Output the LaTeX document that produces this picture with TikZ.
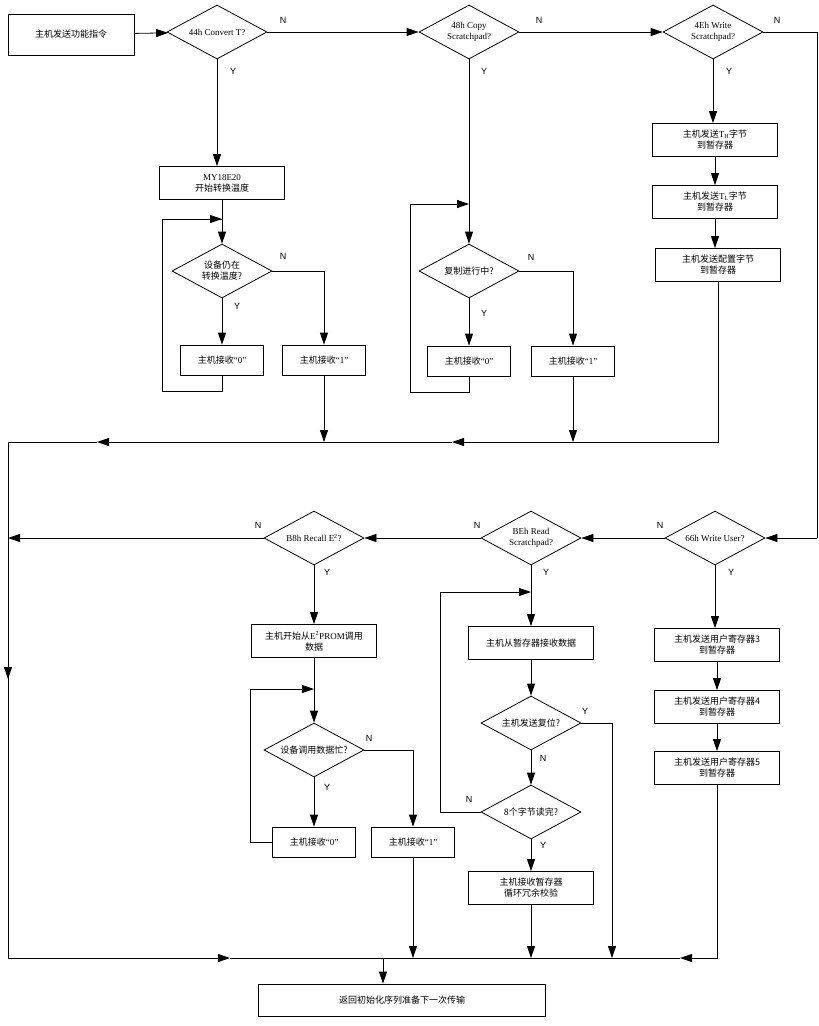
\documentclass[tikz,border=0pt]{standalone}
\usepackage{fontspec}
\setmainfont{Liberation Serif}
\newfontfamily\cjk{Noto Sans CJK SC}
\newfontfamily\lab{Liberation Sans}
\usetikzlibrary{shapes.geometric, arrows.meta, positioning}

\begin{document}
\begin{tikzpicture}[x=1pt, y=-1pt, font=\fontsize{9}{11}\selectfont]
		\tikzstyle{Box} = [rectangle, minimum width=125pt, minimum height=33pt, align=center, draw=black, thick, inner sep=1pt]
		\tikzstyle{Small} = [Box, minimum width=83pt, minimum height=30pt]
		\tikzstyle{Dec} = [diamond, aspect=1.85, minimum width=100pt, minimum height=54pt, inner sep=0pt, align=center, draw=black, thick]
		\tikzstyle{line} = [thick]
		\tikzstyle{arrow} = [thick, -{Triangle[length=12pt, width=8pt]}]
		\tikzstyle{yn} = [font=\lab\fontsize{9}{11}\selectfont]
		
		\useasboundingbox (0,0) rectangle (819,1026);
		
		% top row
		\node (start) [Box, minimum width=126pt, minimum height=41pt] at (71,34.5) {\cjk 主机发送功能指令};
		\node (conv) [Dec] at (217,32) {44h Convert T?};
		\node (copy) [Dec] at (469,32) {48h Copy\\Scratchpad?};
		\node (write) [Dec] at (713,32) {4Eh Write\\Scratchpad?};
		\draw [arrow] (start) -- (conv);
		\draw [arrow] (conv) -- (copy);
		\draw [arrow] (copy) -- (write);
		\node [yn] at (283,20) {N};
		\node [yn] at (539,20) {N};
		\node [yn] at (777,20) {N};
		\node [yn] at (233,71) {Y};
		\node [yn] at (484,71) {Y};
		\node [yn] at (729,71) {Y};
		
		% convert T
		\node (cstart) [Box] at (222,183) {MY18E20\\{\cjk 开始转换温度}};
		\node (cbusy) [Dec] at (222,271) {\cjk 设备仍在\\\cjk 转换温度?};
		\node (c0) [Small] at (222,360) {{\cjk 主机接收}“0”};
		\node (c1) [Small] at (324,360) {{\cjk 主机接收}“1”};
		\draw [arrow] (conv) -- (conv |- cstart.north);
		\draw [arrow] (cstart) -- (cbusy);
		\draw [arrow] (cbusy) -- (c0);
		\draw [arrow] (cbusy.east) -| (c1);
		\draw [line] (c0.south) |- (162,391) |- (222,219);
		\draw [arrow] (162,219) -- (222,219);
		\node [yn] at (283,256) {N};
		\node [yn] at (237,306) {Y};
		
		% copy scratchpad
		\node (pbusy) [Dec] at (469,271) {\cjk 复制进行中?};
		\node (p0) [Small] at (469,361) {{\cjk 主机接收}“0”};
		\node (p1) [Small] at (573,361) {{\cjk 主机接收}“1”};
		\draw [arrow] (copy) -- (pbusy);
		\draw [arrow] (pbusy) -- (p0);
		\draw [arrow] (pbusy.east) -| (p1);
		\draw [line] (p0.south) |- (410,392) -- (410,204);
		\draw [arrow] (410,204) -- (469,204);
		\node [yn] at (531,257) {N};
		\node [yn] at (484,313) {Y};
		
		% write scratchpad
		\node (th) [Box] at (715,140) {{\cjk 主机发送}T\textsubscript{H}{\cjk 字节}\\\cjk 到暂存器};
		\node (tl) [Box] at (715,202) {{\cjk 主机发送}T\textsubscript{L}{\cjk 字节}\\\cjk 到暂存器};
		\node (cfg) [Box] at (718,265) {\cjk 主机发送配置字节\\\cjk 到暂存器};
		\draw [arrow] (write) -- (write |- th.north);
		\draw [arrow] (th) -- (tl);
		\draw [arrow] (tl.south) -- (tl.south |- cfg.north);
		
		% upper collector
		\coordinate (mid1) at (452,442);
		\coordinate (mid2) at (97,442);
		\coordinate (left) at (8,442);
		\draw [arrow] (c1) -- (c1 |- mid1);
		\draw [arrow] (p1) -- (p1 |- mid1);
		\draw [arrow] (cfg.south) |- (mid1);
		\draw [arrow] (mid1) -- (mid2);
		\draw [line] (mid2) -- (left);
		
		% second row
		\node (user) [Dec] at (715,538) {66h Write User?};
		\node (read) [Dec] at (531,538) {BEh Read\\Scratchpad?};
		\node (recall) [Dec] at (314,538) {B8h Recall E\textsuperscript{2}?};
		\draw [line] (write.east) -| (817,538);
		\draw [arrow] (817,538) -- (user.east);
		\draw [arrow] (user) -- (read);
		\draw [arrow] (read) -- (recall);
		\draw [arrow] (recall.west) -- (8,538);
		\node [yn] at (660,525) {N};
		\node [yn] at (477,525) {N};
		\node [yn] at (258,525) {N};
		\node [yn] at (327,572) {Y};
		\node [yn] at (546,572) {Y};
		\node [yn] at (731,572) {Y};
		
		% recall E2
		\node (rstart) [Box] at (314,641) {{\cjk 主机开始从}E\textsuperscript{2}PROM{\cjk 调用}\\\cjk 数据};
		\node (rbusy) [Dec] at (314,750) {\cjk 设备调用数据忙?};
		\node (r0) [Small] at (314,842) {{\cjk 主机接收}“0”};
		\node (r1) [Small] at (413,842) {{\cjk 主机接收}“1”};
		\draw [arrow] (recall) -- (rstart);
		\draw [arrow] (rstart) -- (rbusy);
		\draw [arrow] (rbusy) -- (r0);
		\draw [arrow] (rbusy.east) -| (r1);
		\draw [line] (r0.west) -| (250,689);
		\draw [arrow] (250,689) -- (314,689);
		\node [yn] at (369,738) {N};
		\node [yn] at (327,787) {Y};
		
		% read scratchpad
		\node (rd) [Box] at (531,643) {\cjk 主机从暂存器接收数据};
		\node (reset) [Dec] at (531,723) {\cjk 主机发送复位?};
		\node (eight) [Dec] at (531,812) {\cjk 8个字节读完?};
		\node (crc) [Box] at (531,888) {\cjk 主机接收暂存器\\\cjk 循环冗余校验};
		\draw [arrow] (read) -- (rd);
		\draw [arrow] (rd) -- (reset);
		\draw [arrow] (reset) -- (eight);
		\draw [arrow] (eight) -- (crc);
		\draw [line] (eight.west) -| (440,592);
		\draw [arrow] (440,592) -- (531,592);
		\node [yn] at (585,711) {Y};
		\node [yn] at (543,758) {N};
		\node [yn] at (469,799) {N};
		\node [yn] at (543,845) {Y};
		
		% write user
		\node (u3) [Box] at (717,645) {\cjk 主机发送用户寄存器3\\\cjk 到暂存器};
		\node (u4) [Box] at (717,707) {\cjk 主机发送用户寄存器4\\\cjk 到暂存器};
		\node (u5) [Box] at (717,768) {\cjk 主机发送用户寄存器5\\\cjk 到暂存器};
		\draw [arrow] (user) -- (user |- u3.north);
		\draw [arrow] (u3) -- (u4);
		\draw [arrow] (u4) -- (u5);
		
		% lower collector
		\coordinate (bl) at (8,958);
		\coordinate (ba) at (230,958);
		\coordinate (bb) at (680,958);
		\coordinate (bj) at (383,958);
		\node (final) [Box, minimum width=287pt, minimum height=32pt] at (402,1000) {\cjk 返回初始化序列准备下一次传输};
		\draw [arrow] (left) -- (8,679);
		\draw [line] (8,538) -- (bl);
		\draw [arrow] (bl) -- (ba);
		\draw [line] (ba) -- (bb);
		\draw [arrow] (u5.south) |- (bb);
		\draw [arrow] (r1) -- (r1 |- bj);
		\draw [arrow] (crc) -- (crc |- bj);
		\draw [arrow] (reset.east) -| (612,958);
		\draw [arrow] (bj) -- (bj |- final.north);
\end{tikzpicture}
\end{document}
